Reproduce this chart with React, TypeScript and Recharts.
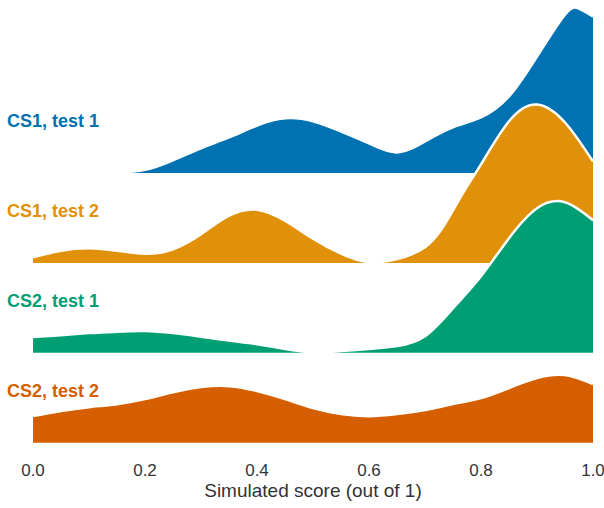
import React from 'react';
import { ComposedChart, Area, XAxis, YAxis, Label } from 'recharts';

// Ridge groups, top to bottom
const groups = ['CS1, test 1', 'CS1, test 2', 'CS2, test 1', 'CS2, test 2'];
const groupColors = ['#0072B2', '#E19109', '#009E73', '#D55E00'];
const scoreTicks = [0, 0.2, 0.4, 0.6, 0.8, 1.0];

// Estimated densities of the simulated scores
const cs1Test1Score = [0.1, 0.15, 0.2, 0.25, 0.3, 0.35, 0.4, 0.45, 0.5, 0.55, 0.6, 0.65, 0.7, 0.75, 0.8, 0.85, 0.9, 0.95, 0.975, 1.0];
const cs1Test1Density = [0, 0.05, 0.15, 0.47, 0.87, 1.23, 1.63, 1.87, 1.77, 1.43, 1.03, 0.73, 1.1, 1.57, 1.9, 2.6, 3.93, 5.33, 5.53, 5.27];

const cs1Test2Score = [0, 0.05, 0.1, 0.15, 0.2, 0.25, 0.3, 0.35, 0.4, 0.45, 0.5, 0.55, 0.6, 0.65, 0.675, 0.7, 0.725, 0.75, 0.775, 0.8, 0.85, 0.9, 0.95, 1.0];
const cs1Test2Density = [0.23, 0.45, 0.53, 0.45, 0.35, 0.5, 1.0, 1.62, 1.82, 1.45, 0.85, 0.35, 0.07, 0.17, 0.32, 0.57, 1.05, 1.8, 2.6, 3.33, 4.77, 5.33, 4.73, 3.43];

const cs2Test1Score = [0, 0.05, 0.1, 0.15, 0.2, 0.25, 0.3, 0.35, 0.4, 0.45, 0.5, 0.55, 0.6, 0.65, 0.7, 0.75, 0.8, 0.85, 0.9, 0.95, 1.0];
const cs2Test1Density = [0.57, 0.63, 0.7, 0.75, 0.77, 0.7, 0.58, 0.45, 0.33, 0.17, 0.06, 0.1, 0.17, 0.27, 0.6, 1.53, 2.6, 3.87, 4.87, 5.07, 4.47];

const cs2Test2Score = [0, 0.05, 0.1, 0.15, 0.2, 0.25, 0.3, 0.35, 0.4, 0.45, 0.5, 0.55, 0.6, 0.65, 0.7, 0.75, 0.8, 0.85, 0.9, 0.95, 1.0];
const cs2Test2Density = [0.93, 1.1, 1.23, 1.33, 1.5, 1.73, 1.9, 1.93, 1.77, 1.5, 1.2, 1.0, 0.93, 1.0, 1.13, 1.33, 1.53, 1.87, 2.2, 2.3, 2.0];

const seriesScores = [cs1Test1Score, cs1Test2Score, cs2Test1Score, cs2Test2Score];
const seriesDensities = [cs1Test1Density, cs1Test2Density, cs2Test1Density, cs2Test2Density];

// Vertical spacing between ridge baselines, in density units
const ROW_GAP = 3;
const Y_MAX = 14.55;

const FONT = '"Liberation Sans", Arial, Helvetica, sans-serif';

const ridges = groups.map((name, i) => {
  const base = (groups.length - 1 - i) * ROW_GAP;
  const rows = seriesScores[i].map((score, j) => ({
    score,
    range: [base, base + seriesDensities[i][j]],
  }));
  return { name, color: groupColors[i], rows };
});

const RidgeLabel = (props: any) => {
  const { y, payload } = props;
  const idx = groups.length - 1 - Math.round(payload.value / ROW_GAP);
  return (
    <text
      x={7}
      y={y - 53}
      dominantBaseline="central"
      fill={groupColors[idx]}
      fontSize={18}
      fontWeight="bold"
      fontFamily={FONT}
    >
      {groups[idx]}
    </text>
  );
};

export default function App() {
  return (
    <div
      style={{
        position: 'absolute',
        left: 0,
        top: 0,
        width: 604,
        height: 508,
        overflow: 'hidden',
        background: '#ffffff',
      }}
    >
      <ComposedChart
        width={604}
        height={508}
        margin={{ top: 8, right: 11, bottom: 0, left: 8 }}
      >
        <XAxis
          dataKey="score"
          type="number"
          domain={[0, 1]}
          ticks={scoreTicks}
          tickFormatter={(v: number) => v.toFixed(1)}
          axisLine={false}
          tickLine={false}
          tickMargin={14}
          height={64}
          tick={{ fill: '#333333', fontSize: 17, fontFamily: FONT }}
          allowDataOverflow
        >
          <Label
            value="Simulated score (out of 1)"
            position="insideBottom"
            offset={11}
            fill="#333333"
            fontSize={19}
            fontFamily={FONT}
          />
        </XAxis>
        <YAxis
          type="number"
          domain={[0, Y_MAX]}
          ticks={[0, 3, 6, 9]}
          axisLine={false}
          tickLine={false}
          width={25}
          tick={<RidgeLabel />}
          allowDataOverflow
        />
        {ridges.map((r) => (
          <Area
            key={r.name}
            name={r.name}
            data={r.rows}
            dataKey="range"
            type="natural"
            fill={r.color}
            fillOpacity={1}
            stroke="#ffffff"
            strokeWidth={2.5}
            isAnimationActive={false}
          />
        ))}
      </ComposedChart>
    </div>
  );
}
